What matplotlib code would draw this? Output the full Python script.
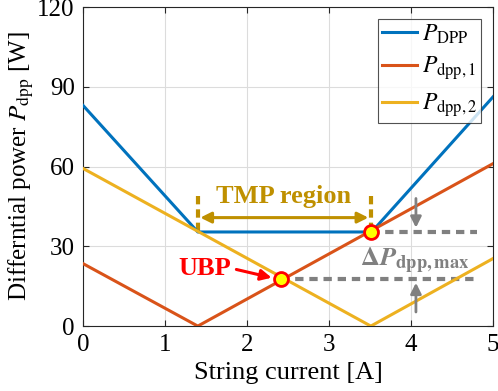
import matplotlib
matplotlib.use("Agg")
import matplotlib.pyplot as plt
import numpy as np

# Data
x_dpp1 = [0.0, 1.40, 5.0]
y_dpp1 = [23.5, 0.0, 61.1]
x_dpp2 = [0.0, 3.51, 5.0]
y_dpp2 = [59.3, 0.0, 25.4]
x_DPP = [0.0, 1.40, 3.52, 5.0]
y_DPP = [83.0, 35.4, 35.4, 86.2]
ubp = (2.41, 17.8)
tmp_pt = (3.51, 35.4)

xticks = [0, 1, 2, 3, 4, 5]
yticks = [0, 30, 60, 90, 120]

plt.rcParams['font.family'] = ['Liberation Serif', 'DejaVu Serif']
plt.rcParams['mathtext.fontset'] = 'stix'

fig = plt.figure(figsize=(4.98, 3.91), dpi=100)
ax = fig.add_axes([0.1667, 0.166, 0.8233, 0.816])

c_blue = '#0072BD'
c_orange = '#D95319'
c_yellow = '#EDB120'
gold = '#BF9000'
gray = '#808080'

ax.plot(x_DPP, y_DPP, color=c_blue, lw=2.2, label=r'$P_{\rm DPP}$', zorder=3)
ax.plot(x_dpp1, y_dpp1, color=c_orange, lw=2.2, label=r'$P_{\rm dpp,1}$', zorder=3)
ax.plot(x_dpp2, y_dpp2, color=c_yellow, lw=2.2, label=r'$P_{\rm dpp,2}$', zorder=3)

# dashed gray levels
ax.plot([ubp[0], 4.80], [ubp[1], ubp[1]], color=gray, lw=3, ls=(0, (2.0, 1.4)), zorder=2)
ax.plot([tmp_pt[0], 4.80], [tmp_pt[1], tmp_pt[1]], color=gray, lw=3, ls=(0, (2.0, 1.4)), zorder=2)

# markers
ax.plot([ubp[0], tmp_pt[0]], [ubp[1], tmp_pt[1]], 'o', ms=10, mfc='yellow', mec='red', mew=2, zorder=5)

# gray arrows
ax.annotate('', xy=(4.06, 37.0), xytext=(4.06, 48.0),
            arrowprops=dict(arrowstyle='-|>', color=gray, lw=2, mutation_scale=16, shrinkA=0, shrinkB=0))
ax.annotate('', xy=(4.06, 16.3), xytext=(4.06, 5.3),
            arrowprops=dict(arrowstyle='-|>', color=gray, lw=2, mutation_scale=16, shrinkA=0, shrinkB=0))
ax.text(3.38, 24.5, r'$\mathbf{\Delta}\boldsymbol{P}_{\mathbf{dpp,max}}$', color=gray,
        fontsize=19, ha='left', va='center')

# TMP region
ax.plot([1.40, 1.40], [35.6, 50.0], color=gold, lw=3, ls=(0, (2.0, 1.2)), zorder=2)
ax.plot([3.51, 3.51], [35.6, 50.0], color=gold, lw=3, ls=(0, (2.0, 1.2)), zorder=2)
ax.annotate('', xy=(1.43, 40.8), xytext=(3.48, 40.8),
            arrowprops=dict(arrowstyle='<|-|>', color=gold, lw=2.2, mutation_scale=16, shrinkA=0, shrinkB=0))
ax.text(2.44, 48.8, 'TMP region', color=gold, fontsize=19, fontweight='bold',
        ha='center', va='center')

# UBP
ax.text(1.49, 21.6, 'UBP', color='red', fontsize=19, fontweight='bold', ha='center', va='center')
ax.annotate('', xy=(2.30, 18.2), xytext=(1.87, 21.3),
            arrowprops=dict(arrowstyle='-|>', color='red', lw=2.2, mutation_scale=16, shrinkA=0, shrinkB=0))

ax.set_xlim(0, 5)
ax.set_ylim(0, 120)
ax.set_xticks(xticks)
ax.set_yticks(yticks)
ax.grid(True, color='#DCDCDC', lw=0.8)
ax.set_axisbelow(True)
ax.tick_params(direction='in', labelsize=18, top=True, right=True, length=4, color='#262626', pad=6)
for s in ax.spines.values():
    s.set_color('#262626')
    s.set_linewidth(0.8)

ax.set_xlabel('String current [A]', fontsize=19, labelpad=4)
ax.set_ylabel(r'Differntial power $P_{\rm dpp}$ [W]', fontsize=18, labelpad=1)

leg = ax.legend(loc='upper right', fontsize=17, fancybox=False, edgecolor='#262626',
                handlelength=1.5, borderpad=0.15, labelspacing=0.38, handletextpad=0.2,
                borderaxespad=0.5)
leg.get_frame().set_linewidth(0.8)

fig.savefig('out.png', dpi=100)
